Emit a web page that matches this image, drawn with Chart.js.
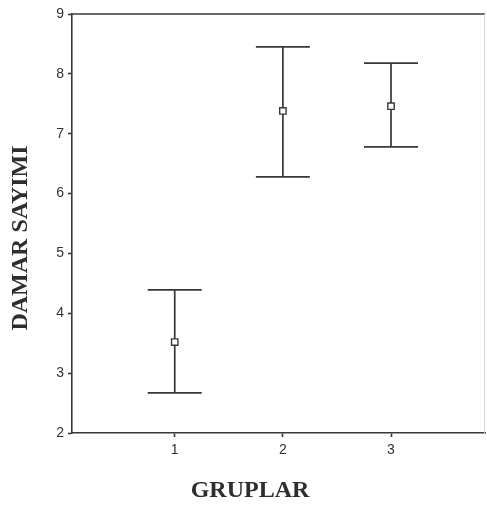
<!DOCTYPE html>
<html>
<head>
<meta charset="utf-8">
<script src="https://cdn.jsdelivr.net/npm/chart.js@4.4.1/dist/chart.umd.min.js"></script>
<style>
  html, body { margin: 0; padding: 0; background: #ffffff; overflow: hidden; }
  #wrap { width: 487px; height: 508px; overflow: hidden; }
  #c { display: block; }
</style>
</head>
<body>
<div id="wrap"><canvas id="c" width="491" height="508"></canvas></div>
<script>
// ---- data ----
const groups = [1, 2, 3];
const groupLabels = ['1', '2', '3'];
const means = [3.52, 7.38, 7.46];
const upper = [4.39, 8.45, 8.18];
const lower = [2.67, 6.28, 6.78];
const yTicks = [2, 3, 4, 5, 6, 7, 8, 9];
const xTitle = 'GRUPLAR';
const yTitle = 'DAMAR SAYIMI';

const ink = '#383838';

const errorBars = {
  id: 'errorBars',
  beforeDatasetsDraw(chart) {
    const { ctx, scales: { x, y } } = chart;
    ctx.save();
    ctx.strokeStyle = ink;
    ctx.lineWidth = 1.7;
    const cap = 27;
    groups.forEach((g, i) => {
      const px = x.getPixelForValue(g);
      const yh = y.getPixelForValue(upper[i]);
      const yl = y.getPixelForValue(lower[i]);
      ctx.beginPath();
      ctx.moveTo(px, yh); ctx.lineTo(px, yl);
      ctx.moveTo(px - cap, yh); ctx.lineTo(px + cap, yh);
      ctx.moveTo(px - cap, yl); ctx.lineTo(px + cap, yl);
      ctx.stroke();
    });
    ctx.restore();
  }
};

const frameAndTitles = {
  id: 'frameAndTitles',
  afterDraw(chart) {
    const { ctx, chartArea: a } = chart;
    ctx.save();
    // top frame line
    ctx.strokeStyle = ink;
    ctx.lineWidth = 1.5;
    ctx.beginPath();
    ctx.moveTo(a.left, a.top); ctx.lineTo(a.right, a.top);
    ctx.stroke();
    // right frame line (faint)
    ctx.strokeStyle = '#d6d6d6';
    ctx.lineWidth = 1;
    ctx.beginPath();
    ctx.moveTo(a.right - 0.5, a.top); ctx.lineTo(a.right - 0.5, a.bottom);
    ctx.stroke();
    // axis titles
    ctx.fillStyle = '#2e2e2e';
    ctx.font = 'bold 24px "Liberation Serif", "Times New Roman", serif';
    ctx.textAlign = 'center';
    ctx.textBaseline = 'middle';
    ctx.fillText(xTitle, 250, 491);
    ctx.translate(21, 238);
    ctx.rotate(-Math.PI / 2);
    ctx.fillText(yTitle, 0, 0);
    ctx.restore();
  }
};

new Chart(document.getElementById('c'), {
  type: 'scatter',
  data: {
    datasets: [{
      label: 'Ortalama',
      data: groups.map((g, i) => ({ x: g, y: means[i] })),
      pointStyle: 'rect',
      pointRadius: 4.5,
      pointHoverRadius: 4.5,
      backgroundColor: '#ffffff',
      borderColor: ink,
      borderWidth: 1.4,
      showLine: false
    }]
  },
  options: {
    responsive: false,
    animation: false,
    layout: { padding: { top: 14, right: 0, left: 0, bottom: 0 } },
    plugins: {
      legend: { display: false },
      tooltip: { enabled: false }
    },
    scales: {
      x: {
        type: 'linear',
        min: 0.05,
        max: 3.87,
        afterBuildTicks: (s) => { s.ticks = groups.map(v => ({ value: v })); },
        afterFit: (s) => { s.height = 75; },
        border: { display: true, color: ink, width: 1.6 },
        grid: { display: true, drawOnChartArea: false, drawTicks: true, tickLength: 4, color: ink, tickWidth: 1.6 },
        ticks: {
          callback: (v) => groupLabels[groups.indexOf(v)],
          color: '#333333',
          font: { family: '"Liberation Sans", Arial, sans-serif', size: 14 },
          padding: 5,
          maxRotation: 0
        }
      },
      y: {
        min: 2,
        max: 9,
        afterBuildTicks: (s) => { s.ticks = yTicks.map(v => ({ value: v })); },
        afterFit: (s) => { s.width = 72; },
        border: { display: true, color: ink, width: 1.6 },
        grid: { display: true, drawOnChartArea: false, drawTicks: true, tickLength: 4, color: ink, tickWidth: 1.6 },
        ticks: {
          color: '#333333',
          font: { family: '"Liberation Sans", Arial, sans-serif', size: 14 },
          padding: 4
        }
      }
    }
  },
  plugins: [errorBars, frameAndTitles]
});
</script>
</body>
</html>
